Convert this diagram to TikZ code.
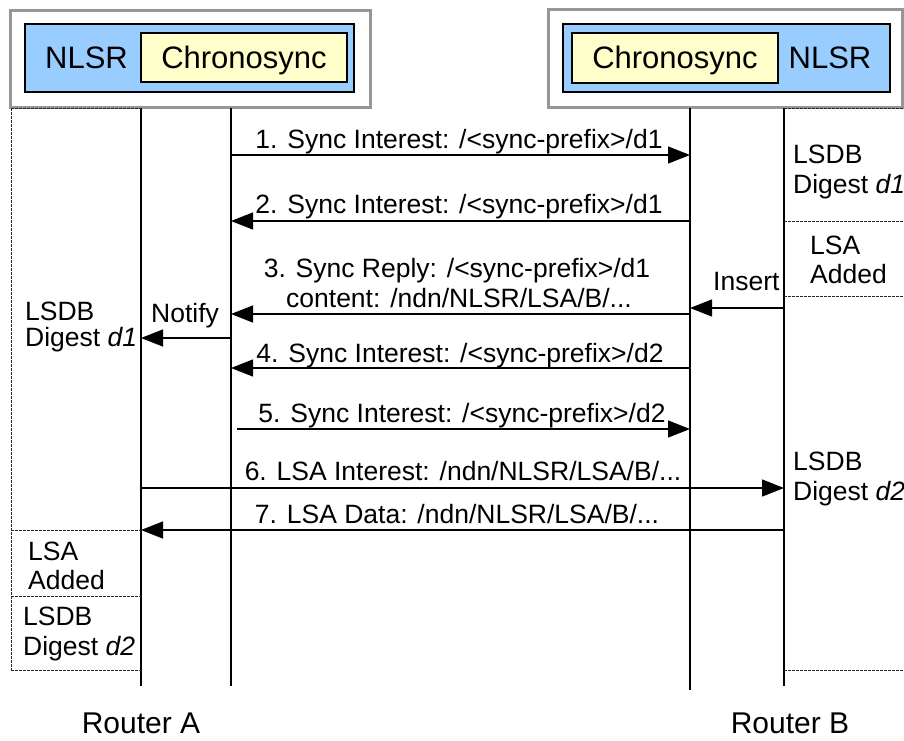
\documentclass[tikz,border=0pt]{standalone}
\usepackage{fontspec}
\setmainfont{Liberation Sans}
\usetikzlibrary{arrows.meta}
\definecolor{nlsrblue}{RGB}{153,204,255}
\definecolor{syncyel}{RGB}{255,255,204}
\definecolor{boxgray}{RGB}{150,150,150}
\begin{document}
\begin{tikzpicture}[x=1pt,y=-1pt,
  life/.style={line width=1.3pt},
  msg/.style={line width=1.3pt,-{Triangle[length=22pt,width=17pt]}},
  dots/.style={line width=1pt,dash pattern=on 2.5pt off 1.5pt,black!85},
  lbl/.style={font=\fontsize{26.5}{30}\selectfont,inner sep=0pt,anchor=base},
  lbll/.style={lbl,anchor=base west},
  ttl/.style={font=\fontsize{31}{36}\selectfont,inner sep=0pt,anchor=base},
  outerbox/.style={draw=boxgray,line width=3pt,fill=white,inner sep=0pt},
  nlsrbox/.style={draw=black,line width=2.5pt,fill=nlsrblue,inner sep=0pt},
  syncbox/.style={draw=black,line width=2.5pt,fill=syncyel,inner sep=0pt},
]
\useasboundingbox (0,0) rectangle (904,740);

% header boxes
\node[outerbox,minimum width=360pt,minimum height=97pt] (oA) at (190,58.5) {};
\node[nlsrbox,minimum width=329pt,minimum height=68pt] (nA) at (189.5,58) {};
\node[syncbox,minimum width=206pt,minimum height=49pt] (sA) at (244,57.5) {};
\node[ttl] (tnA) at (86.5,68) {NLSR};
\node[ttl] (tsA) at (244,68) {Chronosync};

\node[outerbox,minimum width=354pt,minimum height=98pt] (oB) at (725,58) {};
\node[nlsrbox,minimum width=327pt,minimum height=68pt] (nB) at (726.5,58) {};
\node[syncbox,minimum width=206pt,minimum height=50pt] (sB) at (675,58) {};
\node[ttl] (tsB) at (675,68) {Chronosync};
\node[ttl] (tnB) at (830,68) {NLSR};

% lifelines
\coordinate (A1t) at (141,108); \coordinate (A1b) at (141,686);
\coordinate (A2t) at (231,108); \coordinate (A2b) at (231,686);
\coordinate (B2t) at (690,108); \coordinate (B2b) at (690,690);
\coordinate (B1t) at (784,108); \coordinate (B1b) at (784,686);
\draw[life] (A1t) -- (A1b);
\draw[life] (A2t) -- (A2b);
\draw[life] (B2t) -- (B2b);
\draw[life] (B1t) -- (B1b);

% dotted state boxes, left
\coordinate (L0) at (11,108);
\coordinate (L1) at (11,670);
\draw[dots] (L0) -- (A1t);
\draw[dots] (L0) -- (L1);
\coordinate (La) at (11,530); \coordinate (Lam) at (141,530);
\coordinate (Lb) at (11,596); \coordinate (Lbm) at (141,596);
\coordinate (Lcm) at (141,670);
\draw[dots] (La) -- (Lam);
\draw[dots] (Lb) -- (Lbm);
\draw[dots] (L1) -- (Lcm);

% dotted state boxes, right
\coordinate (R0) at (904,108);
\coordinate (Ra) at (784,221); \coordinate (Rae) at (904,221);
\coordinate (Rb) at (784,296); \coordinate (Rbe) at (904,296);
\coordinate (Rc) at (784,670); \coordinate (Rce) at (904,670);
\draw[dots] (B1t) -- (R0);
\draw[dots] (Ra) -- (Rae);
\draw[dots] (Rb) -- (Rbe);
\draw[dots] (Rc) -- (Rce);

% messages
\coordinate (m1s) at (231,155); \coordinate (m1e) at (690,155);
\coordinate (m2s) at (690,221); \coordinate (m2e) at (231,221);
\coordinate (m3s) at (690,314); \coordinate (m3e) at (231,314);
\coordinate (m4s) at (690,368); \coordinate (m4e) at (231,368);
\coordinate (m5s) at (237,429); \coordinate (m5e) at (690,429);
\coordinate (m6s) at (141,488); \coordinate (m6e) at (784,488);
\coordinate (m7s) at (784,530); \coordinate (m7e) at (141,530);
\coordinate (ns) at (231,338); \coordinate (ne) at (141,338);
\coordinate (is) at (784,308); \coordinate (ie) at (690,308);
\draw[msg] (m1s) -- (m1e);
\draw[msg] (m2s) -- (m2e);
\draw[msg] (m3s) -- (m3e);
\draw[msg] (m4s) -- (m4e);
\draw[msg] (m5s) -- (m5e);
\draw[msg] (m6s) -- (m6e);
\draw[msg] (m7s) -- (m7e);
\draw[msg] (ns) -- (ne);
\draw[msg] (is) -- (ie);

\node[lbl] (l1) at (459,148) {1. Sync Interest: /<sync-prefix>/d1};
\node[lbl] (l2) at (459,213) {2. Sync Interest: /<sync-prefix>/d1};
\node[lbl] (l3a) at (457,277) {3. Sync Reply: /<sync-prefix>/d1};
\node[lbl] (l3b) at (459,307) {content: /ndn/NLSR/LSA/B/...};
\node[lbl] (l4) at (460,362) {4. Sync Interest: /<sync-prefix>/d2};
\node[lbl] (l5) at (462,422) {5. Sync Interest: /<sync-prefix>/d2};
\node[lbl] (l6) at (463,480) {6. LSA Interest: /ndn/NLSR/LSA/B/...};
\node[lbl] (l7) at (457,523) {7. LSA Data: /ndn/NLSR/LSA/B/...};
\node[lbll] (notify) at (151,322) {Notify};
\node[lbll] (insert) at (713,290) {Insert};

% state texts left
\node[lbll] (sl1a) at (25,320) {LSDB};
\node[lbll] (sl1b) at (25,346) {Digest \textit{d1}};
\node[lbll] (sl2a) at (28,560) {LSA};
\node[lbll] (sl2b) at (28,589) {Added};
\node[lbll] (sl3a) at (23,625) {LSDB};
\node[lbll] (sl3b) at (23,655) {Digest \textit{d2}};
% state texts right
\node[lbll] (sr1a) at (793,163) {LSDB};
\node[lbll] (sr1b) at (793,193) {Digest \textit{d1}};
\node[lbll] (sr2a) at (810,254) {LSA};
\node[lbll] (sr2b) at (810,283) {Added};
\node[lbll] (sr3a) at (793,470) {LSDB};
\node[lbll] (sr3b) at (793,500) {Digest \textit{d2}};

\node[ttl,font=\fontsize{30}{34}\selectfont] (rA) at (141,733) {Router A};
\node[ttl,font=\fontsize{30}{34}\selectfont] (rB) at (790,733) {Router B};
\end{tikzpicture}
\end{document}
